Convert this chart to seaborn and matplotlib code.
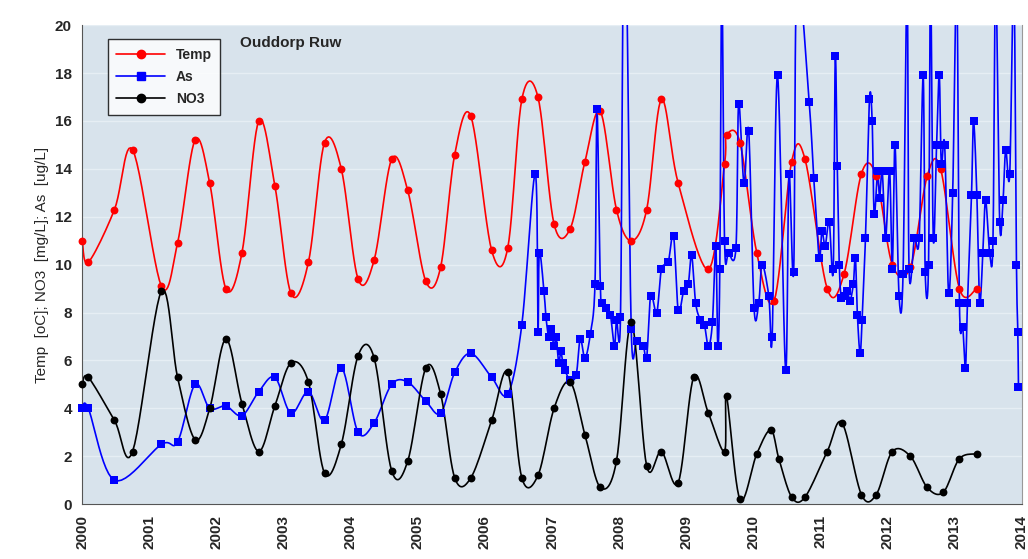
import numpy as np
import matplotlib
matplotlib.use("Agg")
import matplotlib.pyplot as plt
import seaborn as sns

sns.set_style("white")
plt.rcParams['font.family'] = ['Liberation Sans', 'DejaVu Sans']

temp_t = [0, .09, .48, .75, 1.18, 1.42, 1.68, 1.90, 2.14, 2.38, 2.63, 2.87, 3.11, 3.37, 3.61, 3.86,
          4.11, 4.35, 4.61, 4.85, 5.12, 5.34, 5.55, 5.79, 6.10, 6.34, 6.55, 6.79, 7.03, 7.27, 7.49, 7.72,
          7.96, 8.18, 8.41, 8.63, 8.88, 9.33, 9.57, 9.60, 9.80, 10.05, 10.31, 10.57, 10.77, 11.10, 11.35,
          11.61, 11.83, 12.07, 12.34, 12.59, 12.79, 13.07, 13.33]
temp_v = [11.0, 10.1, 12.3, 14.8, 9.1, 10.9, 15.2, 13.4, 9.0, 10.5, 16.0, 13.3, 8.8, 10.1, 15.1, 14.0,
          9.4, 10.2, 14.4, 13.1, 9.3, 9.9, 14.6, 16.2, 10.6, 10.7, 16.9, 17.0, 11.7, 11.5, 14.3, 16.4,
          12.3, 11.0, 12.3, 16.9, 13.4, 9.8, 14.2, 15.4, 15.1, 10.5, 8.5, 14.3, 14.4, 9.0, 9.6,
          13.8, 13.7, 10.0, 9.9, 13.7, 14.0, 9.0, 9.0]

no3_t = [0, .09, .48, .75, 1.18, 1.42, 1.68, 1.90, 2.14, 2.38, 2.63, 2.87, 3.11, 3.37, 3.61, 3.86,
         4.11, 4.35, 4.61, 4.85, 5.12, 5.34, 5.55, 5.79, 6.10, 6.34, 6.55, 6.79, 7.03, 7.27, 7.49, 7.72,
         7.96, 8.18, 8.41, 8.63, 8.88, 9.11, 9.33, 9.57, 9.60, 9.80, 10.05, 10.26, 10.38, 10.57, 10.77,
         11.10, 11.32, 11.61, 11.83, 12.07, 12.34, 12.59, 12.83, 13.07, 13.33]
no3_v = [5.0, 5.3, 3.5, 2.2, 8.9, 5.3, 2.7, 4.0, 6.9, 4.2, 2.2, 4.1, 5.9, 5.1, 1.3, 2.5,
         6.2, 6.1, 1.4, 1.8, 5.7, 4.6, 1.1, 1.1, 3.5, 5.5, 1.1, 1.2, 4.0, 5.1, 2.9, 0.7,
         1.8, 7.6, 1.6, 2.2, 0.9, 5.3, 3.8, 2.2, 4.5, 0.2, 2.1, 3.1, 1.9, 0.3, 0.3,
         2.2, 3.4, 0.4, 0.4, 2.2, 2.0, 0.7, 0.5, 1.9, 2.1]

as_t = [0, .09, .48, 1.18, 1.42, 1.68, 1.90, 2.14, 2.38, 2.63, 2.87, 3.11, 3.37, 3.61, 3.86, 4.11,
        4.35, 4.61, 4.85, 5.12, 5.34, 5.55, 5.79, 6.10, 6.34, 6.55, 6.75, 6.79, 6.81, 6.88, 6.91, 6.95,
        6.98, 7.03, 7.06, 7.10, 7.13, 7.16, 7.19, 7.27, 7.36, 7.42, 7.49, 7.57, 7.64, 7.67, 7.72, 7.75,
        7.81, 7.87, 7.93, 7.96, 8.02, 8.06, 8.11, 8.18, 8.26, 8.36, 8.41, 8.47, 8.56, 8.63, 8.73, 8.81,
        8.88, 8.96, 9.03, 9.08, 9.14, 9.21, 9.27, 9.33, 9.39, 9.44, 9.47, 9.50, 9.53, 9.57, 9.63, 9.74,
        9.78, 9.86, 9.93, 10.01, 10.08, 10.13, 10.23, 10.28, 10.36, 10.48, 10.53, 10.60, 10.65, 10.83,
        10.90, 10.98, 11.02, 11.07, 11.13, 11.19, 11.22, 11.25, 11.28, 11.31, 11.35, 11.40, 11.44,
        11.49, 11.52, 11.55, 11.59, 11.62, 11.67, 11.73, 11.77, 11.80, 11.85, 11.88, 11.92, 11.97,
        12.03, 12.07, 12.11, 12.17, 12.23, 12.29, 12.32, 12.40, 12.47, 12.53, 12.56, 12.61, 12.64,
        12.68, 12.73, 12.77, 12.80, 12.85, 12.91, 12.97, 13.03, 13.07, 13.12, 13.16, 13.19, 13.25,
        13.28, 13.33, 13.37, 13.42, 13.46, 13.52, 13.57, 13.61, 13.67, 13.72, 13.76, 13.82, 13.88,
        13.92, 13.94, 13.95]
as_v = [4.0, 4.0, 1.0, 2.5, 2.6, 5.0, 4.0, 4.1, 3.7, 4.7, 5.3, 3.8, 4.7, 3.5, 5.7, 3.0,
        3.4, 5.0, 5.1, 4.3, 3.8, 5.5, 6.3, 5.3, 4.6, 7.5, 13.8, 7.2, 10.5, 8.9, 7.8, 7.0,
        7.3, 6.6, 7.0, 5.9, 6.4, 5.9, 5.6, 5.2, 5.4, 6.9, 6.1, 7.1, 9.2, 16.5, 9.1, 8.4,
        8.2, 7.9, 6.6, 7.7, 7.8, 22.0, 22.0, 7.3, 6.8, 6.6, 6.1, 8.7, 8.0, 9.8, 10.1, 11.2,
        8.1, 8.9, 9.2, 10.4, 8.4, 7.7, 7.5, 6.6, 7.6, 10.8, 6.6, 9.8, 22.0, 11.0, 10.5, 10.7,
        16.7, 13.4, 15.6, 8.2, 8.4, 10.0, 8.7, 7.0, 17.9, 5.6, 13.8, 9.7, 22.0, 16.8,
        13.6, 10.3, 11.4, 10.8, 11.8, 9.8, 18.7, 14.1, 10.0, 8.6, 8.7, 8.9, 8.5,
        9.2, 10.3, 7.9, 6.3, 7.7, 11.1, 16.9, 16.0, 12.1, 13.9, 12.8, 13.9, 11.1,
        13.9, 9.8, 15.0, 8.7, 9.6, 22.0, 9.8, 11.1, 11.1, 17.9, 9.7, 10.0, 22.0,
        11.1, 15.0, 17.9, 14.2, 15.0, 8.8, 13.0, 22.0, 8.4, 7.4, 5.7, 8.4, 12.9,
        16.0, 12.9, 8.4, 10.5, 12.7, 10.5, 11.0, 22.0, 11.8, 12.7, 14.8, 13.8, 22.0,
        10.0, 7.2, 4.9]


def smooth(t, v, n=12):
    # Catmull-Rom spline through the points (like Excel's smoothed line)
    t = np.asarray(t, float) + 2000
    v = np.asarray(v, float)
    p = np.column_stack([t, v])
    p = np.vstack([p[0], p, p[-1]])
    out = []
    s = np.linspace(0, 1, n, endpoint=False)[:, None]
    for i in range(1, len(p) - 2):
        p0, p1, p2, p3 = p[i - 1], p[i], p[i + 1], p[i + 2]
        seg = 0.5 * ((2 * p1) + (-p0 + p2) * s + (2 * p0 - 5 * p1 + 4 * p2 - p3) * s ** 2
                     + (-p0 + 3 * p1 - 3 * p2 + p3) * s ** 3)
        out.append(seg)
    out.append(p[-2][None, :])
    out = np.vstack(out)
    return out[:, 0], out[:, 1]


fig, ax = plt.subplots(figsize=(10.28, 5.59), dpi=100)
fig.subplots_adjust(left=0.08, right=0.994, bottom=0.098, top=0.955)
ax.set_facecolor('#d8e3ec')

series = [("Temp", temp_t, temp_v, 'red', 'o'),
          ("As", as_t, as_v, 'blue', 's'),
          ("NO3", no3_t, no3_v, 'black', 'o')]
for name, t, v, c, m in series:
    xs, ys = smooth(t, v)
    sns.lineplot(x=xs, y=ys, ax=ax, color=c, lw=1.2, sort=False, estimator=None)
    ax.plot([], [], color=c, marker=m, ms=6, lw=1.2, label=name)
    t = np.asarray(t) + 2000
    v = np.asarray(v)
    keep = v <= 20
    pts = sns.scatterplot(x=t[keep], y=v[keep], ax=ax, color=c, marker=m, s=32,
                          edgecolor=c, linewidth=0, zorder=3)
    pts.collections[-1].set_clip_on(False)

ax.set_xlim(2000, 2014)
ax.set_ylim(0, 20)
ax.set_xticks(range(2000, 2015))
ax.set_xticklabels([str(y) for y in range(2000, 2015)], rotation=90, fontweight='bold', fontsize=11)
ax.set_yticks(range(0, 21, 2))
ax.set_yticklabels([str(y) for y in range(0, 21, 2)], fontweight='bold', fontsize=11)
ax.yaxis.grid(True, color='#e6eef4', lw=1)
ax.set_axisbelow(True)
ax.tick_params(axis='both', direction='out', length=4, color='#555555')
for sp in ['left', 'bottom']:
    ax.spines[sp].set_color('#555555')
ax.spines['top'].set_visible(False)
ax.spines['right'].set_color('#999999')
ax.set_ylabel("Temp  [oC]; NO3  [mg/L]; As  [ug/L]", fontsize=11)
ax.text(2002.35, 19.1, "Ouddorp Ruw", fontweight='bold', fontsize=11)
leg = ax.legend(loc='upper left', bbox_to_anchor=(0.02, 0.985), frameon=True, fancybox=False,
                edgecolor='black', prop={'weight': 'bold', 'size': 10}, handlelength=3.5,
                borderpad=0.6, labelspacing=0.6)
leg.get_frame().set_linewidth(1)
fig.savefig("out.png", dpi=100)
